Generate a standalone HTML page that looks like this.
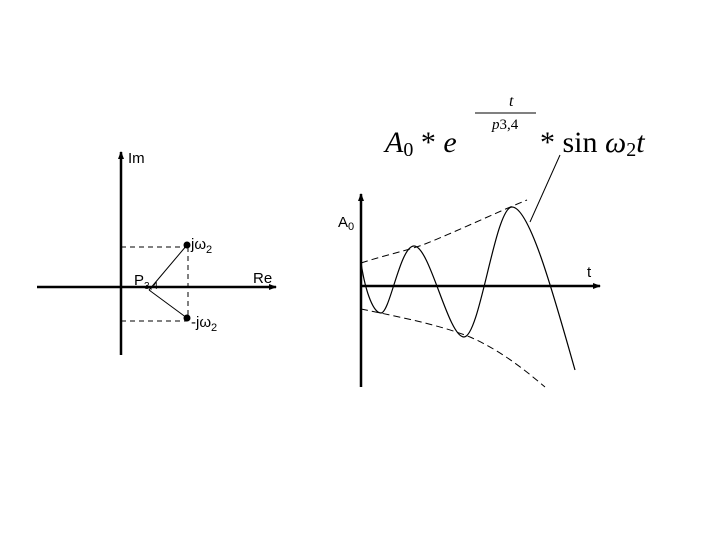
<!DOCTYPE html>
<html><head><style>body{margin:0;background:#fff}svg{display:block}</style></head><body>
<svg width="720" height="540" xmlns="http://www.w3.org/2000/svg">
<defs><marker id="a" markerUnits="userSpaceOnUse" markerWidth="10" markerHeight="10" refX="7" refY="5" orient="auto"><path d="M0,2 L8,5 L0,8z" fill="#000"/></marker></defs>
<g stroke="#000" fill="none">
<line x1="121" y1="355" x2="121" y2="152" stroke-width="2.5" marker-end="url(#a)"/>
<line x1="37" y1="287" x2="276" y2="287" stroke-width="2.5" marker-end="url(#a)"/>
<g stroke-dasharray="5,4" stroke-width="1">
<line x1="121" y1="247" x2="187" y2="247"/><line x1="121" y1="321" x2="187" y2="321"/><line x1="188" y1="247" x2="188" y2="318"/>
</g>
<line x1="149" y1="290" x2="187" y2="245" stroke-width="1"/><line x1="149" y1="290" x2="187" y2="318" stroke-width="1"/>
<line x1="361" y1="387" x2="361" y2="194" stroke-width="2.5" marker-end="url(#a)"/>
<line x1="361" y1="286" x2="600" y2="286" stroke-width="2.5" marker-end="url(#a)"/>
<g stroke-dasharray="7,4" stroke-width="1">
<path d="M361,263 C385,255 410,250 425,244 C460,230 495,213 527,200"/>
<path d="M361,309 C400,317 440,325 470,337 C500,350 525,370 545,387"/>
</g>
<path d="M361,263 C366,295 374,313 381,313 C390,313 400,246 414,246 C430,246 448,337 464,337 C480,337 495,207 512,207 C530,207 555,300 575,370" stroke-width="1.2"/>
<line x1="530" y1="222" x2="560" y2="155" stroke-width="1"/>
<line x1="475" y1="113" x2="536" y2="113" stroke-width="1"/>
</g>
<circle cx="187" cy="245" r="3.5"/><circle cx="187" cy="318" r="3.5"/>
<g font-family="Liberation Sans, sans-serif" font-size="15">
<text x="128" y="163">Im</text>
<text x="191" y="249">jω<tspan font-size="11" dy="4">2</tspan></text>
<text x="191" y="327">-jω<tspan font-size="11" dy="4">2</tspan></text>
<text x="134" y="285">P<tspan font-size="10" dy="4">3,4</tspan></text>
<text x="253" y="283">Re</text>
<text x="338" y="227">A<tspan font-size="11" dy="3">0</tspan></text>
<text x="587" y="277">t</text>
</g>
<g font-family="Liberation Serif, serif" font-size="30">
<text x="385" y="152"><tspan font-style="italic">A</tspan><tspan font-size="20" dy="4">0</tspan><tspan dy="-4"> * </tspan><tspan font-style="italic">e</tspan></text>
<text x="540" y="152">* sin <tspan font-style="italic">ω</tspan><tspan font-size="20" dy="4">2</tspan><tspan dy="-4" font-style="italic">t</tspan></text>
<text x="509" y="106" font-size="16" font-style="italic">t</text>
<text x="492" y="129" font-size="15" font-style="italic">p<tspan font-style="normal">3,4</tspan></text>
</g>
</svg>
</body></html>
